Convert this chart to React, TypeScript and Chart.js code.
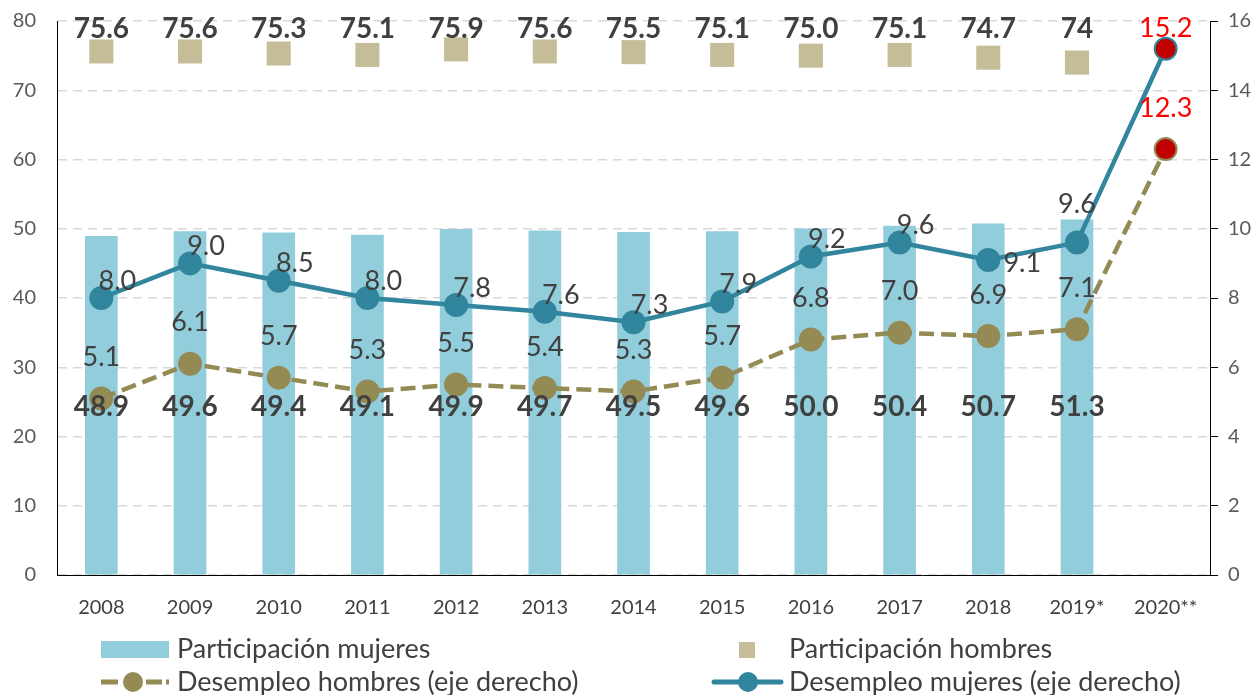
import React, { useEffect, useRef } from "react";
import { Chart, registerables } from "chart.js";

Chart.register(...registerables);

const FONT = "Lato, 'Noto Sans', sans-serif";

const years = ["2008", "2009", "2010", "2011", "2012", "2013", "2014", "2015", "2016", "2017", "2018", "2019*", "2020**"];
const participacionMujeres = [48.9, 49.6, 49.4, 49.1, 49.9, 49.7, 49.5, 49.6, 50.0, 50.4, 50.7, 51.3, null];
const participacionHombres = [75.6, 75.6, 75.3, 75.1, 75.9, 75.6, 75.5, 75.1, 75.0, 75.1, 74.7, 74, null];
const desempleoHombres = [5.1, 6.1, 5.7, 5.3, 5.5, 5.4, 5.3, 5.7, 6.8, 7.0, 6.9, 7.1, 12.3];
const desempleoMujeres = [8.0, 9.0, 8.5, 8.0, 7.8, 7.6, 7.3, 7.9, 9.2, 9.6, 9.1, 9.6, 15.2];
const participacionHombresLabels = ["75.6", "75.6", "75.3", "75.1", "75.9", "75.6", "75.5", "75.1", "75.0", "75.1", "74.7", "74", ""];

const leftAxis = { min: 0, max: 80, step: 10 };
const rightAxis = { min: 0, max: 16, step: 2 };

const COLORS = {
  bar: "#92CDDC",
  square: "#C4BD97",
  menLine: "#948A54",
  womenLine: "#31859C",
  highlightPoint: "#C00000",
  highlightText: "#FF0000",
  text: "#404040",
  tick: "#595959",
  grid: "#D9D9D9",
};

const lastIdx = years.length - 1;

// label offsets (px) for women unemployment labels
const womenOffsets = years.map((_, i) => {
  if (i === 10) return [34, 3];
  if (i === 11) return [0, -38];
  if (i === 12) return [0, -20];
  return [16, -17];
});

const labelsPlugin = {
  id: "customLabels",
  afterDatasetsDraw(chart: any) {
    const ctx = chart.ctx;
    const yL = chart.scales.y;
    const x = chart.scales.x;
    ctx.save();
    ctx.textAlign = "center";
    ctx.textBaseline = "middle";

    // Men participation labels (top)
    ctx.font = `bold 28px ${FONT}`;
    ctx.fillStyle = COLORS.text;
    participacionHombresLabels.forEach((t, i) => {
      if (!t) return;
      ctx.fillText(t, x.getPixelForValue(i), yL.getPixelForValue(78.9));
    });

    // Women participation labels
    participacionMujeres.forEach((v, i) => {
      if (v == null) return;
      ctx.fillText(v.toFixed(1), x.getPixelForValue(i), yL.getPixelForValue(24.3));
    });

    ctx.font = `27px ${FONT}`;
    // Men unemployment labels
    const metaM = chart.getDatasetMeta(2);
    metaM.data.forEach((p: any, i: number) => {
      ctx.fillStyle = i === lastIdx ? COLORS.highlightText : COLORS.text;
      ctx.fillText(desempleoHombres[i].toFixed(1), p.x, p.y - 41);
    });

    // Women unemployment labels
    const metaW = chart.getDatasetMeta(3);
    metaW.data.forEach((p: any, i: number) => {
      ctx.fillStyle = i === lastIdx ? COLORS.highlightText : COLORS.text;
      const [dx, dy] = womenOffsets[i];
      ctx.fillText(desempleoMujeres[i].toFixed(1), p.x + dx, p.y + dy);
    });
    ctx.restore();
  },
  afterDraw(chart: any) {
    const ctx = chart.ctx;
    const ds = chart.data.datasets;
    ctx.save();
    ctx.font = `27px ${FONT}`;
    ctx.textAlign = "left";
    ctx.textBaseline = "middle";

    const row1 = 649;
    const row2 = 682;

    // Participación mujeres
    ctx.fillStyle = COLORS.bar;
    ctx.fillRect(101, 641, 68, 17);
    ctx.fillStyle = COLORS.text;
    ctx.fillText(ds[0].label, 177, row1);

    // Participación hombres
    ctx.fillStyle = COLORS.square;
    ctx.fillRect(739, 642, 16, 16);
    ctx.fillStyle = COLORS.text;
    ctx.fillText(ds[1].label, 789, row1);

    // Desempleo hombres
    ctx.fillStyle = COLORS.menLine;
    ctx.fillRect(101, row2 - 2.5, 17, 5);
    ctx.fillRect(146, row2 - 2.5, 16, 5);
    ctx.fillRect(166, row2 - 2.5, 3, 5);
    ctx.beginPath();
    ctx.arc(133, row2, 10, 0, Math.PI * 2);
    ctx.fill();
    ctx.fillStyle = COLORS.text;
    ctx.fillText(ds[2].label, 177, row2);

    // Desempleo mujeres
    ctx.strokeStyle = COLORS.womenLine;
    ctx.lineWidth = 5;
    ctx.lineCap = "round";
    ctx.beginPath();
    ctx.moveTo(714, row2);
    ctx.lineTo(781, row2);
    ctx.stroke();
    ctx.fillStyle = COLORS.womenLine;
    ctx.beginPath();
    ctx.arc(748, row2, 10, 0, Math.PI * 2);
    ctx.fill();
    ctx.fillStyle = COLORS.text;
    ctx.fillText(ds[3].label, 789, row2);

    ctx.restore();
  },
};

export default function App() {
  const ref = useRef<HTMLCanvasElement>(null);

  useEffect(() => {
    if (!ref.current) return;
    Chart.defaults.font.family = FONT;
    const chart = new Chart(ref.current, {
      type: "bar",
      data: {
        labels: years,
        datasets: [
          {
            type: "bar",
            label: "Participación mujeres",
            data: participacionMujeres,
            backgroundColor: COLORS.bar,
            barThickness: 32,
            yAxisID: "y",
            order: 4,
          } as any,
          {
            type: "line",
            label: "Participación hombres",
            data: participacionHombres,
            showLine: false,
            pointStyle: "rect",
            pointRadius: 17,
            pointBackgroundColor: COLORS.square,
            pointBorderWidth: 0,
            pointBorderColor: COLORS.square,
            yAxisID: "y",
            order: 3,
          },
          {
            type: "line",
            label: "Desempleo hombres (eje derecho)",
            data: desempleoHombres,
            borderColor: COLORS.menLine,
            borderWidth: 4.5,
            borderDash: [15, 7],
            pointRadius: 11,
            pointBackgroundColor: desempleoHombres.map((_, i) => (i === lastIdx ? COLORS.highlightPoint : COLORS.menLine)),
            pointBorderColor: COLORS.menLine,
            pointBorderWidth: 2,
            yAxisID: "y1",
            order: 2,
          },
          {
            type: "line",
            label: "Desempleo mujeres (eje derecho)",
            data: desempleoMujeres,
            borderColor: COLORS.womenLine,
            borderWidth: 4.5,
            pointRadius: 11,
            pointBackgroundColor: desempleoMujeres.map((_, i) => (i === lastIdx ? COLORS.highlightPoint : COLORS.womenLine)),
            pointBorderColor: COLORS.womenLine,
            pointBorderWidth: 2,
            yAxisID: "y1",
            order: 1,
          },
        ],
      },
      options: {
        responsive: false,
        animation: false,
        layout: { padding: { top: 21, left: 0, right: 0, bottom: 0 } },
        plugins: {
          legend: { display: false },
          tooltip: { enabled: false },
        },
        scales: {
          x: {
            grid: { display: false, drawTicks: false },
            border: { display: true, color: "#000000", width: 1 },
            ticks: { padding: 21, color: COLORS.text, font: { size: 20, family: FONT } },
            afterFit(s: any) {
              s.height = 120;
              s.paddingLeft = 0;
              s.paddingRight = 0;
            },
          },
          y: {
            position: "left",
            min: leftAxis.min,
            max: leftAxis.max,
            ticks: { stepSize: leftAxis.step, padding: 21, color: COLORS.tick, font: { size: 20, family: FONT } },
            grid: { color: COLORS.grid, lineWidth: 1.5, drawTicks: false },
            border: { display: true, color: "#000000", width: 1, dash: [9, 6] },
            afterFit(s: any) {
              s.width = 57;
              s.paddingTop = 0;
              s.paddingBottom = 0;
            },
          },
          y1: {
            position: "right",
            min: rightAxis.min,
            max: rightAxis.max,
            ticks: { stepSize: rightAxis.step, padding: 10, color: COLORS.tick, font: { size: 20, family: FONT } },
            grid: { drawOnChartArea: false, drawTicks: true, tickLength: 8, tickColor: "#000000", tickWidth: 1 },
            border: { display: true, color: "#000000", width: 1 },
            afterFit(s: any) {
              s.width = 48;
              s.paddingTop = 0;
              s.paddingBottom = 0;
            },
          },
        },
      } as any,
      plugins: [labelsPlugin],
    });
    return () => chart.destroy();
  }, []);

  return (
    <div style={{ position: "fixed", left: 0, top: 0, width: 1258, height: 695, background: "#fff" }}>
      <canvas ref={ref} width={1258} height={695} style={{ display: "block" }} />
    </div>
  );
}
